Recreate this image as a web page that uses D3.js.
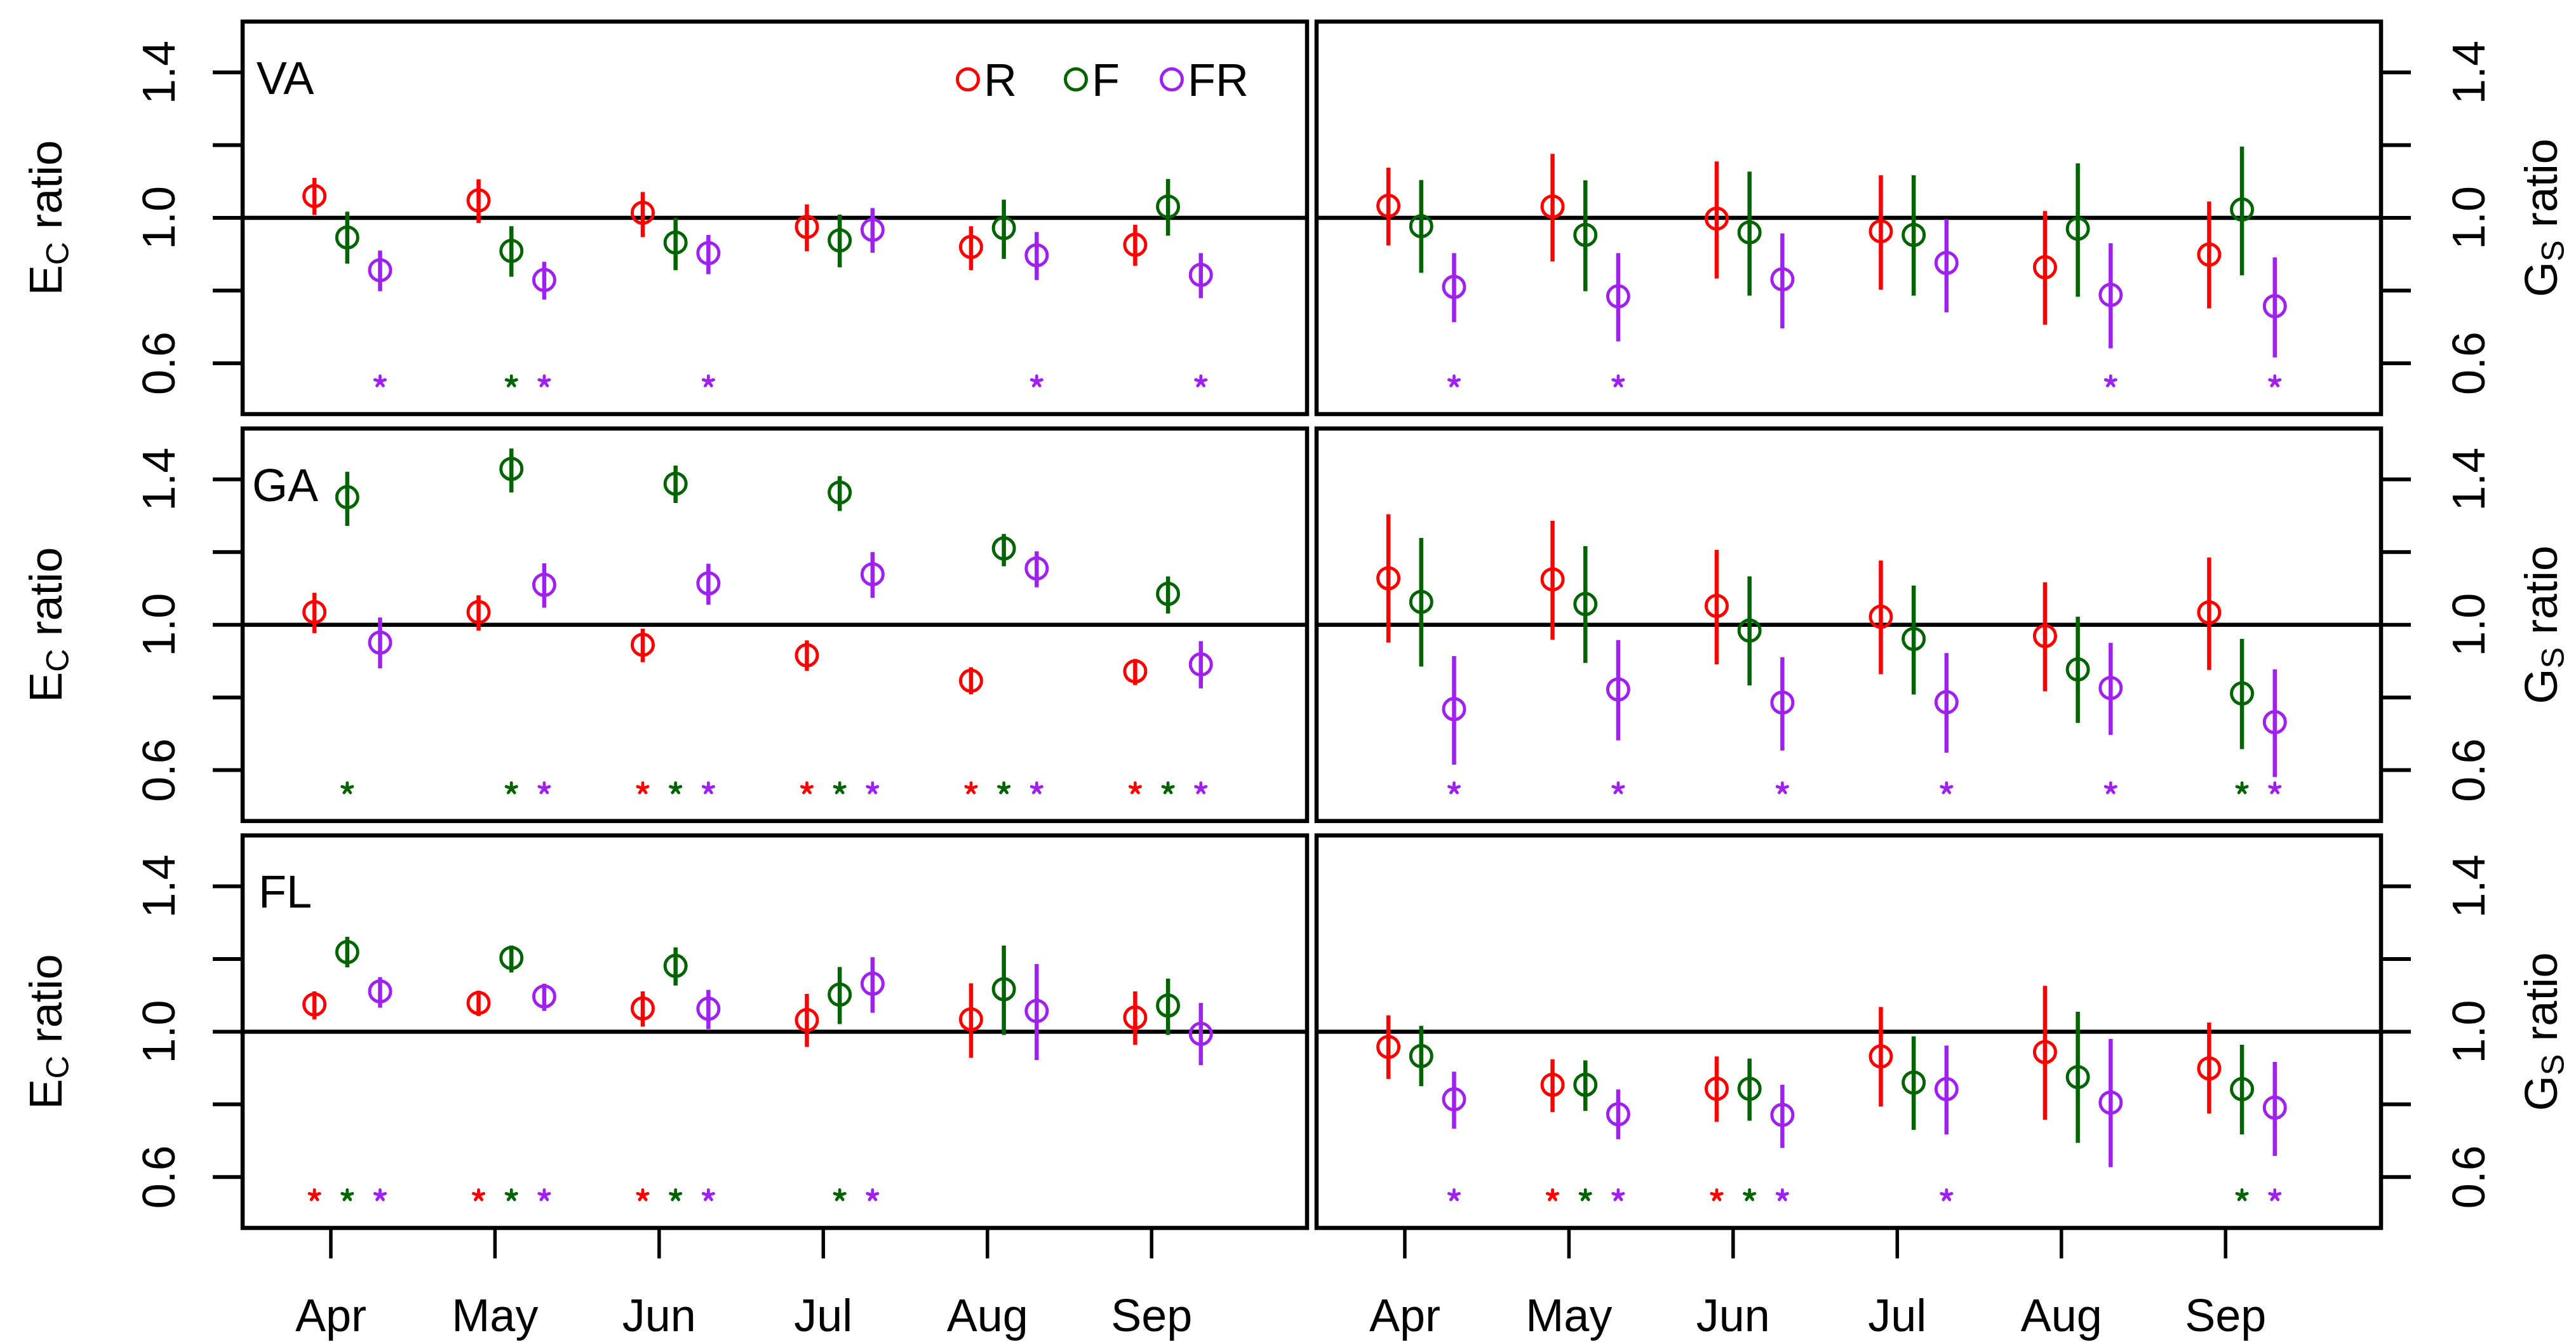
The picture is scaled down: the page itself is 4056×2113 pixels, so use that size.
<!DOCTYPE html>
<html>
<head>
<meta charset="utf-8">
<script src="https://cdn.jsdelivr.net/npm/d3@7"></script>
<style>
  html, body { margin: 0; padding: 0; background: #fff; }
  svg { display: block; }
  text { font-family: "Liberation Sans", Arial, Helvetica, sans-serif; }
</style>
</head>
<body>
<svg id="chart" width="4056" height="2113"></svg>
<script>
// ---------------- DATA ----------------
const months = ["Apr", "May", "Jun", "Jul", "Aug", "Sep"];
const sites = ["VA", "GA", "FL"];
const treatments = ["R", "F", "FR"];
const treatmentColors = ["#FF0000", "#006400", "#A020F0"];
const yTicks = [0.6, 0.8, 1.0, 1.2, 1.4];
const yTickLabels = ["0.6", "", "1.0", "", "1.4"];

// VA - Ec ratio
const VA_Ec_R     = [1.060, 1.048, 1.014, 0.975, 0.920, 0.926];
const VA_Ec_R_lo  = [1.008, 0.986, 0.947, 0.908, 0.856, 0.868];
const VA_Ec_R_hi  = [1.110, 1.106, 1.071, 1.037, 0.977, 0.981];
const VA_Ec_F     = [0.946, 0.909, 0.932, 0.938, 0.972, 1.031];
const VA_Ec_F_lo  = [0.874, 0.838, 0.856, 0.864, 0.887, 0.951];
const VA_Ec_F_hi  = [1.017, 0.977, 1.000, 1.009, 1.050, 1.107];
const VA_Ec_FR    = [0.856, 0.829, 0.903, 0.967, 0.897, 0.843];
const VA_Ec_FR_lo = [0.798, 0.775, 0.845, 0.904, 0.829, 0.779];
const VA_Ec_FR_hi = [0.910, 0.879, 0.953, 1.027, 0.961, 0.903];
const VA_Ec_sig_R  = [];
const VA_Ec_sig_F  = ["May"];
const VA_Ec_sig_FR = ["Apr", "May", "Jun", "Aug", "Sep"];

// VA - Gs ratio
const VA_Gs_R     = [1.033, 1.031, 0.998, 0.963, 0.864, 0.899];
const VA_Gs_R_lo  = [0.924, 0.880, 0.833, 0.802, 0.706, 0.751];
const VA_Gs_R_hi  = [1.138, 1.176, 1.155, 1.117, 1.019, 1.045];
const VA_Gs_F     = [0.977, 0.953, 0.960, 0.953, 0.970, 1.023];
const VA_Gs_F_lo  = [0.849, 0.798, 0.786, 0.786, 0.783, 0.842];
const VA_Gs_F_hi  = [1.104, 1.103, 1.127, 1.117, 1.150, 1.196];
const VA_Gs_FR    = [0.810, 0.784, 0.831, 0.876, 0.788, 0.757];
const VA_Gs_FR_lo = [0.713, 0.660, 0.696, 0.740, 0.641, 0.616];
const VA_Gs_FR_hi = [0.903, 0.903, 0.957, 0.996, 0.930, 0.891];
const VA_Gs_sig_R  = [];
const VA_Gs_sig_F  = [];
const VA_Gs_sig_FR = ["Apr", "May", "Aug", "Sep"];

// GA - Ec ratio
const GA_Ec_R     = [1.035, 1.035, 0.945, 0.916, 0.846, 0.872];
const GA_Ec_R_lo  = [0.977, 0.984, 0.897, 0.873, 0.809, 0.834];
const GA_Ec_R_hi  = [1.088, 1.081, 0.989, 0.957, 0.883, 0.906];
const GA_Ec_F     = [1.351, 1.429, 1.388, 1.364, 1.210, 1.085];
const GA_Ec_F_lo  = [1.272, 1.364, 1.335, 1.313, 1.161, 1.031];
const GA_Ec_F_hi  = [1.421, 1.485, 1.438, 1.409, 1.250, 1.133];
const GA_Ec_FR    = [0.951, 1.110, 1.114, 1.139, 1.155, 0.891];
const GA_Ec_FR_lo = [0.880, 1.047, 1.055, 1.074, 1.103, 0.825];
const GA_Ec_FR_hi = [1.020, 1.169, 1.168, 1.200, 1.202, 0.955];
const GA_Ec_sig_R  = ["Jun", "Jul", "Aug", "Sep"];
const GA_Ec_sig_F  = ["Apr", "May", "Jun", "Jul", "Aug", "Sep"];
const GA_Ec_sig_FR = ["May", "Jun", "Jul", "Aug", "Sep"];

// GA - Gs ratio
const GA_Gs_R     = [1.128, 1.125, 1.052, 1.022, 0.969, 1.034];
const GA_Gs_R_lo  = [0.951, 0.959, 0.891, 0.864, 0.817, 0.876];
const GA_Gs_R_hi  = [1.304, 1.286, 1.206, 1.177, 1.117, 1.185];
const GA_Gs_F     = [1.063, 1.057, 0.984, 0.961, 0.877, 0.811];
const GA_Gs_F_lo  = [0.885, 0.895, 0.833, 0.808, 0.730, 0.658];
const GA_Gs_F_hi  = [1.239, 1.216, 1.133, 1.108, 1.022, 0.961];
const GA_Gs_FR    = [0.768, 0.822, 0.786, 0.787, 0.826, 0.732];
const GA_Gs_FR_lo = [0.615, 0.682, 0.654, 0.648, 0.697, 0.581];
const GA_Gs_FR_hi = [0.914, 0.958, 0.911, 0.922, 0.950, 0.877];
const GA_Gs_sig_R  = [];
const GA_Gs_sig_F  = ["Sep"];
const GA_Gs_sig_FR = ["Apr", "May", "Jun", "Jul", "Aug", "Sep"];

// FL - Ec ratio
const FL_Ec_R     = [1.075, 1.079, 1.064, 1.032, 1.034, 1.039];
const FL_Ec_R_lo  = [1.034, 1.043, 1.014, 0.958, 0.928, 0.964];
const FL_Ec_R_hi  = [1.111, 1.113, 1.111, 1.104, 1.133, 1.111];
const FL_Ec_F     = [1.219, 1.203, 1.181, 1.102, 1.117, 1.072];
const FL_Ec_F_lo  = [1.177, 1.163, 1.127, 1.021, 0.991, 0.991];
const FL_Ec_F_hi  = [1.261, 1.237, 1.232, 1.178, 1.237, 1.146];
const FL_Ec_FR    = [1.111, 1.097, 1.063, 1.132, 1.057, 0.994];
const FL_Ec_FR_lo = [1.066, 1.057, 1.007, 1.052, 0.922, 0.908];
const FL_Ec_FR_hi = [1.150, 1.132, 1.115, 1.205, 1.186, 1.079];
const FL_Ec_sig_R  = ["Apr", "May", "Jun"];
const FL_Ec_sig_F  = ["Apr", "May", "Jun", "Jul"];
const FL_Ec_sig_FR = ["Apr", "May", "Jun", "Jul"];

// FL - Gs ratio
const FL_Gs_R     = [0.958, 0.854, 0.843, 0.932, 0.944, 0.899];
const FL_Gs_R_lo  = [0.870, 0.779, 0.752, 0.794, 0.758, 0.775];
const FL_Gs_R_hi  = [1.045, 0.924, 0.932, 1.068, 1.126, 1.025];
const FL_Gs_F     = [0.933, 0.854, 0.843, 0.860, 0.875, 0.842];
const FL_Gs_F_lo  = [0.850, 0.782, 0.755, 0.730, 0.694, 0.717];
const FL_Gs_F_hi  = [1.016, 0.921, 0.926, 0.987, 1.055, 0.964];
const FL_Gs_FR    = [0.814, 0.773, 0.771, 0.842, 0.805, 0.791];
const FL_Gs_FR_lo = [0.733, 0.704, 0.680, 0.717, 0.627, 0.658];
const FL_Gs_FR_hi = [0.890, 0.841, 0.854, 0.962, 0.980, 0.917];
const FL_Gs_sig_R  = ["May", "Jun"];
const FL_Gs_sig_F  = ["May", "Jun", "Sep"];
const FL_Gs_sig_FR = ["Apr", "May", "Jun", "Jul", "Sep"];

const sigLevel = 0.55;   // y value where the significance asterisks sit
const refLine = 1.0;

// Build panel tables from the arrays
const panelData = {
  VA: {
    Ec: [[VA_Ec_R, VA_Ec_R_lo, VA_Ec_R_hi, VA_Ec_sig_R], [VA_Ec_F, VA_Ec_F_lo, VA_Ec_F_hi, VA_Ec_sig_F], [VA_Ec_FR, VA_Ec_FR_lo, VA_Ec_FR_hi, VA_Ec_sig_FR]],
    Gs: [[VA_Gs_R, VA_Gs_R_lo, VA_Gs_R_hi, VA_Gs_sig_R], [VA_Gs_F, VA_Gs_F_lo, VA_Gs_F_hi, VA_Gs_sig_F], [VA_Gs_FR, VA_Gs_FR_lo, VA_Gs_FR_hi, VA_Gs_sig_FR]]
  },
  GA: {
    Ec: [[GA_Ec_R, GA_Ec_R_lo, GA_Ec_R_hi, GA_Ec_sig_R], [GA_Ec_F, GA_Ec_F_lo, GA_Ec_F_hi, GA_Ec_sig_F], [GA_Ec_FR, GA_Ec_FR_lo, GA_Ec_FR_hi, GA_Ec_sig_FR]],
    Gs: [[GA_Gs_R, GA_Gs_R_lo, GA_Gs_R_hi, GA_Gs_sig_R], [GA_Gs_F, GA_Gs_F_lo, GA_Gs_F_hi, GA_Gs_sig_F], [GA_Gs_FR, GA_Gs_FR_lo, GA_Gs_FR_hi, GA_Gs_sig_FR]]
  },
  FL: {
    Ec: [[FL_Ec_R, FL_Ec_R_lo, FL_Ec_R_hi, FL_Ec_sig_R], [FL_Ec_F, FL_Ec_F_lo, FL_Ec_F_hi, FL_Ec_sig_F], [FL_Ec_FR, FL_Ec_FR_lo, FL_Ec_FR_hi, FL_Ec_sig_FR]],
    Gs: [[FL_Gs_R, FL_Gs_R_lo, FL_Gs_R_hi, FL_Gs_sig_R], [FL_Gs_F, FL_Gs_F_lo, FL_Gs_F_hi, FL_Gs_sig_F], [FL_Gs_FR, FL_Gs_FR_lo, FL_Gs_FR_hi, FL_Gs_sig_FR]]
  }
};

// ---------------- LAYOUT ----------------
const svg = d3.select("#chart");
const FONT = 72;
const colLeft = [382, 2073];
const panelW = 1676;
const rowTop = [34, 674.7, 1315.4];
const panelH = 618;
const offsets = [-0.1, 0.1, 0.3];   // horizontal dodge per treatment (month units)
const xDomain = [-0.5375, 5.947];
const yDomain = [0.46, 1.54];

svg.append("rect").attr("width", 4056).attr("height", 2113).attr("fill", "#fff");

function asteriskPath(cx, cy, r) {
  let d = "";
  for (let k = 0; k < 5; k++) {
    const a = (-90 + k * 72) * Math.PI / 180;
    d += `M${cx},${cy}L${cx + r * Math.cos(a)},${cy + r * Math.sin(a)}`;
  }
  return d;
}

sites.forEach((site, ri) => {
  ["Ec", "Gs"].forEach((varName, ci) => {
    const left = colLeft[ci], top = rowTop[ri];
    const x = d3.scaleLinear().domain(xDomain).range([left, left + panelW]);
    const y = d3.scaleLinear().domain(yDomain).range([top + panelH, top]);
    const g = svg.append("g");

    // reference line at 1.0
    g.append("line")
      .attr("x1", left).attr("x2", left + panelW)
      .attr("y1", y(refLine)).attr("y2", y(refLine))
      .attr("stroke", "#000").attr("stroke-width", 6.5);

    const series = panelData[site][varName];
    series.forEach((s, ti) => {
      const [mean, lo, hi, sig] = s;
      const col = treatmentColors[ti];
      const pts = months.map((m, i) => ({ i, m, v: mean[i], lo: lo[i], hi: hi[i] }));
      g.selectAll(null).data(pts).enter().append("line")
        .attr("x1", d => x(d.i + offsets[ti])).attr("x2", d => x(d.i + offsets[ti]))
        .attr("y1", d => y(d.lo)).attr("y2", d => y(d.hi))
        .attr("stroke", col).attr("stroke-width", 6.5);
      g.selectAll(null).data(pts).enter().append("circle")
        .attr("cx", d => x(d.i + offsets[ti])).attr("cy", d => y(d.v))
        .attr("r", 16.5).attr("fill", "none")
        .attr("stroke", col).attr("stroke-width", 5);
      // significance asterisks
      g.selectAll(null).data(sig).enter().append("path")
        .attr("d", m => asteriskPath(x(months.indexOf(m) + offsets[ti]), y(sigLevel), 8.5))
        .attr("stroke", col).attr("stroke-width", 4.8)
        .attr("stroke-linecap", "round").attr("fill", "none");
    });

    // panel box
    g.append("rect")
      .attr("x", left).attr("y", top).attr("width", panelW).attr("height", panelH)
      .attr("fill", "none").attr("stroke", "#000").attr("stroke-width", 6.5);

    // y axis ticks and labels
    const yAxis = g.append("g");
    const dir = ci === 0 ? -1 : 1;
    const edge = ci === 0 ? left : left + panelW;
    yAxis.selectAll(null).data(yTicks).enter().append("line")
      .attr("x1", edge).attr("x2", edge + dir * 47)
      .attr("y1", d => y(d)).attr("y2", d => y(d))
      .attr("stroke", "#000").attr("stroke-width", 6);
    const labelBaseX = ci === 0 ? 275 : 3912;
    yAxis.selectAll(null).data(yTicks.map((t, k) => ({ t, lab: yTickLabels[k] })).filter(d => d.lab))
      .enter().append("text")
      .attr("transform", d => `translate(${labelBaseX},${y(d.t)}) rotate(-90)`)
      .attr("text-anchor", "middle")
      .attr("font-size", FONT)
      .text(d => d.lab);

    // axis title
    const titleX = ci === 0 ? 96.7 : 4026;
    const title = g.append("text")
      .attr("transform", `translate(${titleX},${top + panelH / 2}) rotate(-90)`)
      .attr("text-anchor", "middle")
      .attr("font-size", FONT);
    title.append("tspan").text(ci === 0 ? "E" : "G");
    title.append("tspan").attr("font-size", FONT * 0.7).attr("dy", 11).text(ci === 0 ? "C" : "S");
    title.append("tspan").attr("dy", -11).text(" ratio");

    // site label
    if (ci === 0) {
      g.append("text")
        .attr("x", 449).attr("y", top + 114)
        .attr("text-anchor", "middle").attr("font-size", FONT)
        .text(site);
    }

    // legend
    if (ri === 0 && ci === 0) {
      const legX = [1524, 1694, 1845];
      treatments.forEach((t, ti) => {
        g.append("circle").attr("cx", legX[ti]).attr("cy", 125).attr("r", 16.5)
          .attr("fill", "none").attr("stroke", treatmentColors[ti]).attr("stroke-width", 5);
        g.append("text").attr("x", legX[ti] + 25).attr("y", 151)
          .attr("font-size", FONT).text(t);
      });
    }

    // x axis on bottom row
    if (ri === 2) {
      const bottom = top + panelH;
      g.selectAll(null).data(months).enter().append("line")
        .attr("x1", (m, i) => x(i)).attr("x2", (m, i) => x(i))
        .attr("y1", bottom).attr("y2", bottom + 48)
        .attr("stroke", "#000").attr("stroke-width", 5.5);
      g.selectAll(null).data(months).enter().append("text")
        .attr("x", (m, i) => x(i)).attr("y", 2096)
        .attr("text-anchor", "middle").attr("font-size", FONT)
        .text(m => m);
    }
  });
});
</script>
</body>
</html>
